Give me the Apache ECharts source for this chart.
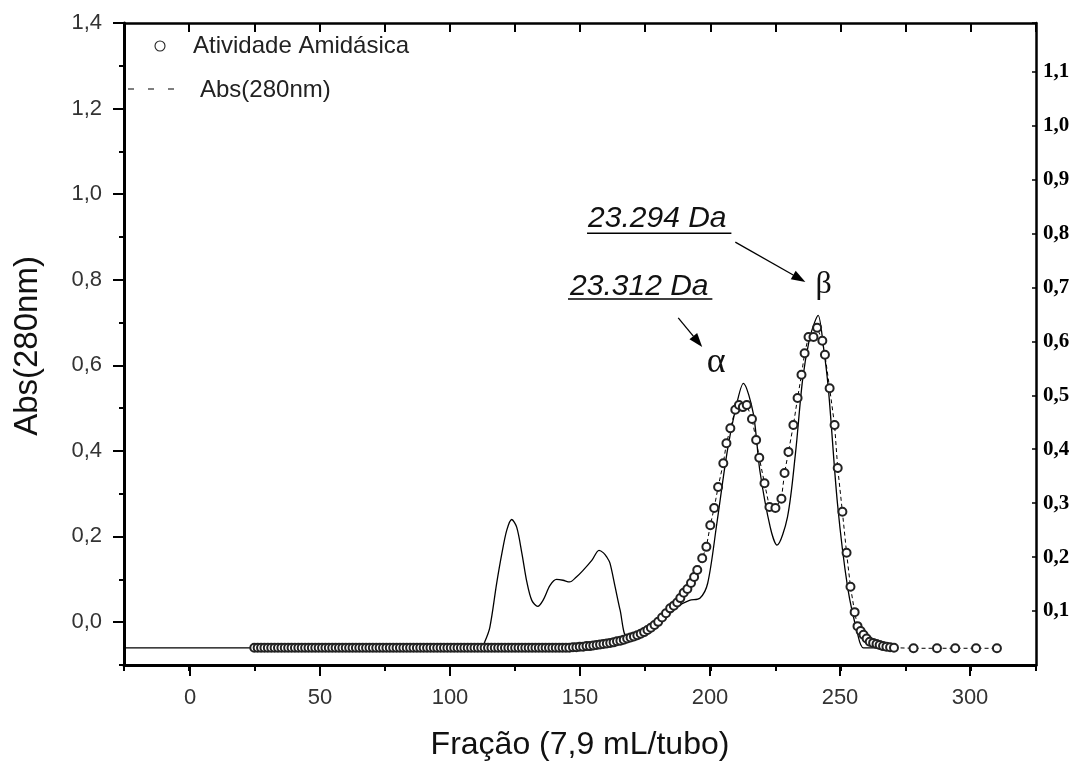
<!DOCTYPE html>
<html>
<head>
<meta charset="utf-8">
<script src="https://cdn.jsdelivr.net/npm/echarts@6/dist/echarts.min.js"></script>
<style>
  html, body { margin: 0; padding: 0; background: #fff; }
  #chart { width: 1082px; height: 765px; }
</style>
</head>
<body>
<div id="chart"></div>
<script>
// Absorbance at 280 nm (left axis) along the elution fractions
const absFrac = [-25, 112, 113.5, 115.4, 118, 120, 121.9, 123.8, 125.7, 127.7, 129.6, 131.5, 133.8, 135.8,
  138.5, 141, 143.5, 146, 148.5, 151, 154.6, 157.3, 159, 160.3, 161.5, 163.5, 165.4, 168, 172, 178, 183,
  187, 192, 196, 199, 202.5, 206.4, 209.6, 212.7, 216.5, 219, 223, 225.6, 229.6, 232.7, 235.4, 238, 240,
  241.4, 243.5, 245.4, 248.8, 252.7, 256.5, 258.8, 266];
const absVal = [-0.06, -0.06, -0.045, -0.012, 0.09, 0.16, 0.215, 0.24, 0.222, 0.161, 0.094, 0.051, 0.037, 0.051,
  0.086, 0.10, 0.098, 0.094, 0.105, 0.12, 0.145, 0.168, 0.162, 0.152, 0.138, 0.082, 0.028, -0.035, -0.03, -0.012, 0.01,
  0.035, 0.051, 0.056, 0.091, 0.23, 0.395, 0.495, 0.558, 0.488, 0.355, 0.222, 0.18, 0.245, 0.395, 0.565, 0.66, 0.70,
  0.717, 0.64, 0.54, 0.278, 0.082, -0.026, -0.06, -0.06];

// Amidase activity (right axis), one reading per collected fraction
const actFrac = [25, 26.3, 27.6, 28.9, 30.2, 31.5, 32.8, 34.1, 35.4, 36.7, 38, 39.3, 40.6, 41.9, 43.2, 44.5,
  45.8, 47.1, 48.4, 49.7, 51, 52.3, 53.6, 54.9, 56.2, 57.5, 58.8, 60.1, 61.4, 62.7, 64, 65.3, 66.6, 67.9,
  69.2, 70.5, 71.8, 73.1, 74.4, 75.7, 77, 78.3, 79.6, 80.9, 82.2, 83.5, 84.8, 86.1, 87.4, 88.7, 90, 91.3,
  92.6, 93.9, 95.2, 96.5, 97.8, 99.1, 100.4, 101.7, 103, 104.3, 105.6, 106.9, 108.2, 109.5, 110.8, 112.1,
  113.4, 114.7, 116, 117.3, 118.6, 119.9, 121.2, 122.5, 123.8, 125.1, 126.4, 127.7, 129, 130.3, 131.6,
  132.9, 134.2, 135.5, 136.8, 138.1, 139.4, 140.7, 142, 143.3, 144.6, 145.9,
  147.3, 148.6, 149.9, 151.2, 152.5, 153.8, 155.1, 156.4, 157.7, 159, 160.3, 161.6, 162.9, 164.2, 165.5,
  166.8, 168.1, 169.4, 170.7, 172, 173.3, 174.6, 175.9, 177.2, 178.6, 180, 181.5, 183, 184.6, 186, 187.3,
  188.5, 189.8, 191.2, 192.6, 193.8, 195, 196.9, 198.5, 200, 201.5, 203, 205, 206.2, 207.7, 209.6, 211,
  212.5, 214, 216, 217.6, 218.8, 220.8, 222.7, 225, 227.3, 228.5, 230, 231.9, 233.5, 235, 236.2, 237.7,
  239.6, 241, 243, 244, 245.8, 247.7, 248.9, 250.7, 252.3, 253.8, 255.4, 256.5, 257.7, 258.8, 260, 261.2,
  262.5, 263.8, 265, 266.3, 267.6, 269, 270.5, 278, 287, 294, 302, 310];
const actVal = [0.032, 0.032, 0.032, 0.032, 0.032, 0.032, 0.032, 0.032, 0.032, 0.032, 0.032, 0.032, 0.032,
  0.032, 0.032, 0.032, 0.032, 0.032, 0.032, 0.032, 0.032, 0.032, 0.032, 0.032, 0.032, 0.032, 0.032, 0.032,
  0.032, 0.032, 0.032, 0.032, 0.032, 0.032, 0.032, 0.032, 0.032, 0.032, 0.032, 0.032, 0.032, 0.032, 0.032,
  0.032, 0.032, 0.032, 0.032, 0.032, 0.032, 0.032, 0.032, 0.032, 0.032, 0.032, 0.032, 0.032, 0.032, 0.032,
  0.032, 0.032, 0.032, 0.032, 0.032, 0.032, 0.032, 0.032, 0.032, 0.032, 0.032, 0.032, 0.032, 0.032, 0.032,
  0.032, 0.032, 0.032, 0.032, 0.032, 0.032, 0.032, 0.032, 0.032, 0.032, 0.032, 0.032, 0.032, 0.032, 0.032,
  0.032, 0.032, 0.032, 0.032, 0.032, 0.032,
  0.033, 0.033, 0.034, 0.034, 0.035, 0.035, 0.036, 0.037, 0.038, 0.039, 0.040, 0.041, 0.042, 0.044, 0.045,
  0.047, 0.049, 0.051, 0.053, 0.055, 0.058, 0.061, 0.065, 0.069, 0.074, 0.080, 0.088, 0.096, 0.105, 0.110,
  0.116, 0.124, 0.134, 0.141, 0.152, 0.163, 0.176, 0.198, 0.219, 0.259, 0.291, 0.330, 0.374, 0.411, 0.439,
  0.473, 0.482, 0.478, 0.482, 0.456, 0.417, 0.384, 0.337, 0.293, 0.291, 0.308, 0.356, 0.395, 0.445, 0.495,
  0.538, 0.578, 0.608, 0.608, 0.625, 0.601, 0.575, 0.513, 0.445, 0.365, 0.284, 0.208, 0.145, 0.098, 0.072,
  0.063, 0.056, 0.049, 0.043, 0.041, 0.039, 0.037, 0.035, 0.034, 0.033, 0.032, 0.031, 0.031, 0.031, 0.031, 0.031];

// Tick ranges
const fracRange = [-25, 325];
const fracTickStep = 25;
const fracLabelRange = [0, 300];
const fracLabelStep = 50;
const absRange = [-0.1, 1.4];
const absLabelRange = [0, 1.4];
const absLabelStep = 0.2;
const actRange = [0, 1.19];
const actStep = 0.1;

const comma = v => (Math.round(v * 10) / 10).toFixed(1).replace('.', ',');
const SANS = 'Liberation Sans, Arial, sans-serif';
const SERIF = 'Liberation Serif, Times New Roman, serif';

const chart = echarts.init(document.getElementById('chart'), null, { renderer: 'canvas' });

const option = {
  backgroundColor: '#ffffff',
  animation: false,
  grid: [
    { left: 124, right: 46, top: 23, bottom: 100 },
    { left: 190, right: 112, top: 23, bottom: 143 }
  ],
  xAxis: [
    { // bottom frame with 25-step minor ticks
      type: 'value', gridIndex: 0, position: 'bottom',
      min: fracRange[0], max: fracRange[1], interval: fracTickStep,
      axisLine: { onZero: false, lineStyle: { color: '#000', width: 3 } },
      axisTick: { inside: false, length: 6, lineStyle: { color: '#000', width: 2 } },
      axisLabel: { show: false }, splitLine: { show: false }
    },
    { // top frame
      type: 'value', gridIndex: 0, position: 'top',
      min: fracRange[0], max: fracRange[1], interval: fracTickStep,
      axisLine: { onZero: false, lineStyle: { color: '#000', width: 2.5 } },
      axisTick: { inside: true, length: 9, lineStyle: { color: '#000', width: 2 } },
      axisLabel: { show: false }, splitLine: { show: false }
    },
    { // labelled major ticks of the fraction axis
      type: 'value', gridIndex: 1, position: 'bottom', offset: 43,
      min: fracLabelRange[0], max: fracLabelRange[1], interval: fracLabelStep,
      axisLine: { show: false, onZero: false },
      axisTick: { inside: false, length: 11, lineStyle: { color: '#000', width: 2 } },
      axisLabel: { margin: 22, color: '#333', fontFamily: SANS, fontSize: 22 },
      splitLine: { show: false }
    }
  ],
  yAxis: [
    { // left frame with 0.1-step minor ticks
      type: 'value', gridIndex: 0, position: 'left',
      min: absRange[0], max: absRange[1], interval: 0.1,
      axisLine: { onZero: false, lineStyle: { color: '#000', width: 3 } },
      axisTick: { inside: false, length: 5, lineStyle: { color: '#000', width: 2 } },
      axisLabel: { show: false }, splitLine: { show: false }
    },
    { // right axis: amidase activity
      type: 'value', gridIndex: 0, position: 'right',
      min: actRange[0], max: actRange[1], interval: actStep,
      axisLine: { onZero: false, lineStyle: { color: '#000', width: 2.5 } },
      axisTick: { inside: true, length: 4, lineStyle: { color: '#000', width: 1.5 } },
      axisLabel: {
        margin: 7, color: '#000', fontFamily: SERIF, fontWeight: 'bold', fontSize: 21,
        formatter: v => (v < 0.05 || v > 1.15) ? '' : comma(v)
      },
      splitLine: { show: false }
    },
    { // labelled major ticks of the absorbance axis
      type: 'value', gridIndex: 1, position: 'left', offset: 66,
      min: absLabelRange[0], max: absLabelRange[1], interval: absLabelStep,
      axisLine: { show: false, onZero: false },
      axisTick: { inside: false, length: 11, lineStyle: { color: '#000', width: 2 } },
      axisLabel: { margin: 22, color: '#333', fontFamily: SANS, fontSize: 22, formatter: comma },
      splitLine: { show: false }
    }
  ],
  series: [
    {
      name: 'Abs(280nm)', type: 'line', xAxisIndex: 0, yAxisIndex: 0,
      data: absFrac.map((x, i) => [x, absVal[i]]),
      symbol: 'none', smooth: 0.3,
      lineStyle: { color: '#000', width: 1.3 }, z: 2
    },
    {
      name: 'Atividade Amidásica', type: 'line', xAxisIndex: 0, yAxisIndex: 1,
      data: actFrac.map((x, i) => [x, actVal[i]]),
      symbol: 'emptyCircle', symbolSize: 8, showSymbol: true, showAllSymbol: true,
      itemStyle: { color: '#222', borderColor: '#222', borderWidth: 0.9 },
      lineStyle: { color: '#000', width: 1, type: [4, 3] }, z: 3
    }
  ],
  graphic: [
    // legend
    { type: 'circle', shape: { cx: 160, cy: 46, r: 5 }, style: { fill: '#fff', stroke: '#222', lineWidth: 1.1 } },
    { type: 'text', x: 193, y: 46, style: { text: 'Atividade Amidásica', fontFamily: SANS, fontSize: 24, fill: '#222', verticalAlign: 'middle' } },
    { type: 'line', shape: { x1: 128, y1: 89, x2: 178, y2: 89 }, style: { stroke: '#000', lineWidth: 1.2, lineDash: [6, 14] } },
    { type: 'text', x: 200, y: 90, style: { text: 'Abs(280nm)', fontFamily: SANS, fontSize: 24, fill: '#222', verticalAlign: 'middle' } },
    // axis titles
    { type: 'text', x: 28, y: 346, rotation: Math.PI / 2, style: { text: 'Abs(280nm)', fontFamily: SANS, fontSize: 33, fill: '#111', align: 'center', verticalAlign: 'middle' } },
    { type: 'text', x: 580, y: 745, style: { text: 'Fração (7,9 mL/tubo)', fontFamily: SANS, fontSize: 32, fill: '#111', align: 'center', verticalAlign: 'middle' } }
  ]
};
chart.setOption(option);

// Peak annotations, placed in data coordinates (fraction, absorbance)
const notes = {
  betaLabel: { text: '23.294 Da', at: [153.1, 0.944], line: [[152.7, 0.909], [208.1, 0.909]] },
  alphaLabel: { text: '23.312 Da', at: [146.2, 0.785], line: [[145.4, 0.755], [200.8, 0.755]] },
  betaArrow: [[209.6, 0.888], [236.5, 0.795]],
  alphaArrow: [[187.7, 0.711], [196.9, 0.643]],
  beta: [243.5, 0.788],
  alpha: [202.3, 0.606]
};
const P = p => chart.convertToPixel({ xAxisIndex: 0, yAxisIndex: 0 }, p);

function arrow(seg) {
  const a = P(seg[0]), b = P(seg[1]);
  const dx = b[0] - a[0], dy = b[1] - a[1];
  const len = Math.hypot(dx, dy), ux = dx / len, uy = dy / len;
  const hl = 14, hw = 5;
  const bx = b[0] - ux * hl, by = b[1] - uy * hl;
  return [
    { type: 'line', shape: { x1: a[0], y1: a[1], x2: bx, y2: by }, style: { stroke: '#000', lineWidth: 1.3 } },
    { type: 'polygon', shape: { points: [b, [bx - uy * hw, by + ux * hw], [bx + uy * hw, by - ux * hw]] }, style: { fill: '#000' } }
  ];
}
function label(n) {
  const p = P(n.at), l0 = P(n.line[0]), l1 = P(n.line[1]);
  return [
    { type: 'text', x: p[0], y: p[1], style: { text: n.text, fontFamily: SANS, fontStyle: 'italic', fontSize: 30, fill: '#111', verticalAlign: 'middle' } },
    { type: 'line', shape: { x1: l0[0], y1: l0[1], x2: l1[0], y2: l1[1] }, style: { stroke: '#000', lineWidth: 1.5 } }
  ];
}
const pb = P(notes.beta), pa = P(notes.alpha);
const extra = [].concat(
  label(notes.betaLabel), label(notes.alphaLabel),
  arrow(notes.betaArrow), arrow(notes.alphaArrow),
  [
    { type: 'text', x: pb[0], y: pb[1], style: { text: 'β', fontFamily: SERIF, fontSize: 32, fill: '#111', align: 'center', verticalAlign: 'middle' } },
    { type: 'text', x: pa[0], y: pa[1], style: { text: 'α', fontFamily: SERIF, fontSize: 36, fill: '#111', align: 'center', verticalAlign: 'middle' } }
  ]
);
chart.setOption({ graphic: option.graphic.concat(extra) });
</script>
</body>
</html>
